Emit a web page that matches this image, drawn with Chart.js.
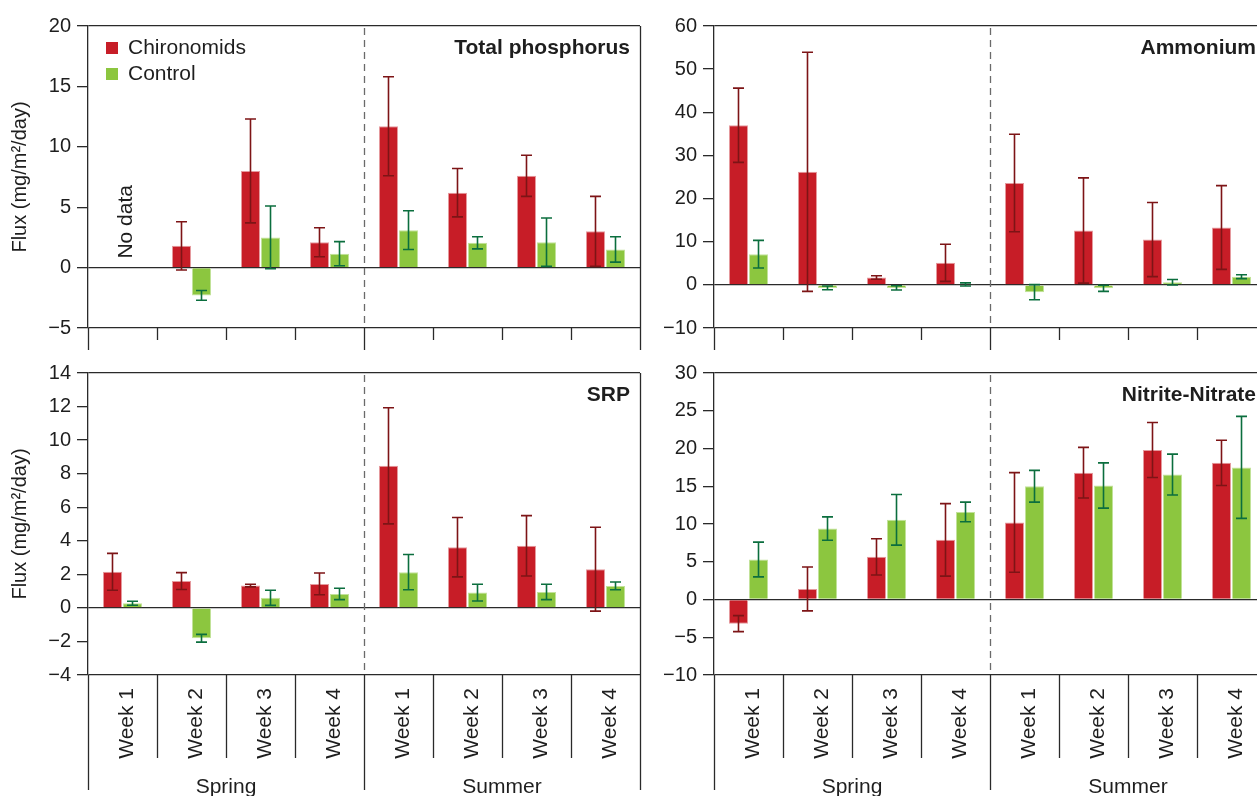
<!DOCTYPE html>
<html>
<head>
<meta charset="utf-8">
<script src="https://cdn.jsdelivr.net/npm/chart.js@4.4.1/dist/chart.umd.min.js"></script>
<style>
html, body { margin: 0; padding: 0; background: #fff; overflow: hidden; width: 1257px; height: 796px; }
canvas { position: absolute; }
</style>
</head>
<body>
<canvas id="tpChart" width="645" height="360" style="left:0;top:0"></canvas>
<canvas id="nh4Chart" width="625" height="360" style="left:645px;top:0"></canvas>
<canvas id="srpChart" width="645" height="446" style="left:0;top:350px"></canvas>
<canvas id="noxChart" width="625" height="446" style="left:645px;top:350px"></canvas>
<script>
const weekLabels = ['Week 1', 'Week 2', 'Week 3', 'Week 4', 'Week 1', 'Week 2', 'Week 3', 'Week 4'];
const seasonLabels = ['Spring', 'Summer'];
const seriesNames = ['Chironomids', 'Control'];

// Total phosphorus (spring week 1: no data)
const tpChironomids = [null, 1.8, 8.0, 2.1, 11.7, 6.2, 7.6, 3.0];
const tpChironomidsErr = [null, 2.0, 4.3, 1.2, 4.1, 2.0, 1.7, 2.9];
const tpControl = [null, -2.3, 2.5, 1.15, 3.1, 2.05, 2.1, 1.5];
const tpControlErr = [null, 0.4, 2.6, 1.0, 1.6, 0.5, 2.0, 1.05];

// Ammonium
const nh4Chironomids = [37.0, 26.2, 1.7, 5.1, 23.6, 12.6, 10.5, 13.3];
const nh4ChironomidsErr = [8.6, 27.7, 0.4, 4.3, 11.3, 12.2, 8.6, 9.7];
const nh4Control = [7.1, -0.7, -0.7, 0.1, -1.7, -0.8, 0.6, 1.9];
const nh4ControlErr = [3.2, 0.45, 0.5, 0.35, 1.75, 0.7, 0.65, 0.45];

// SRP
const srpChironomids = [2.15, 1.6, 1.33, 1.43, 8.47, 3.62, 3.7, 2.31];
const srpChironomidsErr = [1.1, 0.5, 0.08, 0.65, 3.46, 1.77, 1.8, 2.5];
const srpControl = [0.28, -1.81, 0.6, 0.83, 2.13, 0.91, 0.95, 1.31];
const srpControlErr = [0.12, 0.23, 0.45, 0.34, 1.05, 0.5, 0.46, 0.23];

// Nitrite-Nitrate
const noxChironomids = [-3.2, 1.4, 5.65, 7.9, 10.2, 16.8, 19.8, 18.1];
const noxChironomidsErr = [1.06, 2.9, 2.4, 4.8, 6.6, 3.35, 3.65, 3.0];
const noxControl = [5.3, 9.4, 10.55, 11.6, 15.0, 15.1, 16.55, 17.5];
const noxControlErr = [2.3, 1.55, 3.35, 1.3, 2.1, 3.0, 2.7, 6.75];

const RED = '#c71d27';
const RED_EDGE = '#e59a9e';
const RED_DARK = '#7d1416';
const GREEN = '#8cc63f';
const GREEN_EDGE = '#c2e29a';
const GREEN_DARK = '#0b6e3e';
const INK = '#2a2a2a';
const FONT = "'Liberation Sans', Arial, sans-serif";

// error bars, separators, dashed season line, titles and legend
const panelDeco = {
    id: 'panelDeco',
    afterDatasetsDraw(chart) {
        const ctx = chart.ctx;
        const y = chart.scales.y;
        ctx.save();
        chart.data.datasets.forEach((ds, di) => {
            const meta = chart.getDatasetMeta(di);
            ctx.strokeStyle = ds.errorColor;
            ctx.lineWidth = 1.6;
            ds.data.forEach((v, i) => {
                if (v === null || ds.errors[i] === null) return;
                const bx = meta.data[i].x;
                const top = y.getPixelForValue(v + ds.errors[i]);
                const bot = y.getPixelForValue(v - ds.errors[i]);
                ctx.beginPath();
                ctx.moveTo(bx, top); ctx.lineTo(bx, bot);
                ctx.moveTo(bx - 5.5, top); ctx.lineTo(bx + 5.5, top);
                ctx.moveTo(bx - 5.5, bot); ctx.lineTo(bx + 5.5, bot);
                ctx.stroke();
            });
        });
        ctx.restore();
    },
    afterDraw(chart, args, opts) {
        const ctx = chart.ctx;
        const area = chart.chartArea;
        const x = chart.scales.x;
        const y = chart.scales.y;
        const step = (area.right - area.left) / weekLabels.length;
        ctx.save();
        ctx.strokeStyle = INK;
        ctx.lineWidth = 1.3;
        // separators below the axis
        for (let i = 0; i <= weekLabels.length; i++) {
            const px = Math.round(area.left + i * step) + 0.5;
            const major = i % 4 === 0;
            ctx.beginPath();
            ctx.moveTo(px, i === 8 ? area.top : area.bottom);
            ctx.lineTo(px, area.bottom + (major ? opts.majorDrop : opts.minorDrop));
            ctx.stroke();
        }
        // dashed season divider
        const mid = Math.round(area.left + 4 * step) + 0.5;
        ctx.strokeStyle = '#6a6a6a';
        ctx.setLineDash([7, 5]);
        ctx.beginPath();
        ctx.moveTo(mid, area.top + 2);
        ctx.lineTo(mid, area.bottom);
        ctx.stroke();
        ctx.setLineDash([]);

        ctx.fillStyle = '#1e1e1e';
        // panel title
        ctx.font = 'bold 21px ' + FONT;
        ctx.textAlign = 'right';
        ctx.textBaseline = 'middle';
        ctx.fillText(opts.title, area.right - 10, area.top + opts.titleOffset);

        // season labels
        if (opts.seasons) {
            ctx.font = '21px ' + FONT;
            ctx.textAlign = 'center';
            ctx.textBaseline = 'alphabetic';
            seasonLabels.forEach((s, k) => {
                ctx.fillText(s, area.left + (k * 4 + 2) * step, chart.height - 3);
            });
        }

        // legend
        if (opts.legend) {
            const ds = chart.data.datasets;
            ctx.font = '21px ' + FONT;
            ctx.textAlign = 'left';
            ctx.textBaseline = 'middle';
            ds.forEach((d, k) => {
                const ly = area.top + 22 + k * 26;
                ctx.fillStyle = d.backgroundColor;
                ctx.fillRect(area.left + 18, ly - 6, 12, 12);
                ctx.fillStyle = '#1e1e1e';
                ctx.fillText(d.label, area.left + 40, ly);
            });
        }

        // no data note
        if (opts.noData !== null) {
            const cx = x.getPixelForValue(opts.noData) + 4;
            ctx.save();
            ctx.translate(cx, y.getPixelForValue(0) - 9);
            ctx.rotate(-Math.PI / 2);
            ctx.font = '21px ' + FONT;
            ctx.textAlign = 'left';
            ctx.textBaseline = 'middle';
            ctx.fillText('No data', 0, 0);
            ctx.restore();
        }
        ctx.restore();
    }
};

function minusSign(value) {
    return value < 0 ? '\u2212' + Math.abs(value) : String(value);
}

function buildPanel(canvasId, cfg) {
    return new Chart(document.getElementById(canvasId), {
        type: 'bar',
        data: {
            labels: weekLabels,
            datasets: [
                {
                    label: seriesNames[0],
                    data: cfg.chironomids,
                    errors: cfg.chironomidsErr,
                    errorColor: RED_DARK,
                    backgroundColor: RED,
                    borderColor: RED_EDGE,
                    borderWidth: 1,
                    categoryPercentage: 0.58,
                    barPercentage: 0.95
                },
                {
                    label: seriesNames[1],
                    data: cfg.control,
                    errors: cfg.controlErr,
                    errorColor: GREEN_DARK,
                    backgroundColor: GREEN,
                    borderColor: GREEN_EDGE,
                    borderWidth: 1,
                    categoryPercentage: 0.58,
                    barPercentage: 0.95
                }
            ]
        },
        options: {
            responsive: false,
            animation: false,
            events: [],
            layout: { padding: cfg.padding },
            plugins: {
                legend: { display: false },
                tooltip: { enabled: false },
                panelDeco: {
                    title: cfg.title,
                    titleOffset: cfg.titleOffset,
                    legend: cfg.legend,
                    noData: cfg.noData,
                    seasons: cfg.seasons,
                    minorDrop: cfg.minorDrop,
                    majorDrop: cfg.majorDrop
                }
            },
            scales: {
                x: {
                    grid: { display: false },
                    border: { display: false },
                    ticks: {
                        display: cfg.seasons,
                        autoSkip: false,
                        minRotation: 90,
                        maxRotation: 90,
                        padding: 5,
                        labelOffset: 5,
                        color: '#1e1e1e',
                        font: { family: FONT, size: 21 }
                    },
                    afterFit: s => { s.height = cfg.xHeight; }
                },
                y: {
                    min: cfg.min,
                    max: cfg.max,
                    ticks: {
                        stepSize: cfg.step,
                        padding: 6,
                        color: '#1e1e1e',
                        font: { family: FONT, size: 20 },
                        callback: v => minusSign(v)
                    },
                    grid: {
                        drawTicks: true,
                        tickLength: 11,
                        tickColor: INK,
                        lineWidth: 1.3,
                        color: c => (c.tick && (c.tick.value === 0 || c.tick.value === cfg.min || c.tick.value === cfg.max)) ? INK : 'rgba(0,0,0,0)'
                    },
                    border: { display: true, color: INK, width: 1.3 },
                    title: {
                        display: cfg.yTitle,
                        text: 'Flux (mg/m\u00b2/day)',
                        color: '#1e1e1e',
                        font: { family: FONT, size: 20 },
                        padding: { top: 8, bottom: 0 }
                    },
                    afterFit: s => { s.width = cfg.yWidth; }
                }
            }
        },
        plugins: [panelDeco]
    });
}

buildPanel('tpChart', {
    chironomids: tpChironomids, chironomidsErr: tpChironomidsErr,
    control: tpControl, controlErr: tpControlErr,
    min: -5, max: 20, step: 5,
    title: 'Total phosphorus', titleOffset: 22, legend: true, noData: 0,
    seasons: false, yTitle: true, yWidth: 88, xHeight: 32,
    minorDrop: 12, majorDrop: 22,
    padding: { top: 26, left: 0, right: 5, bottom: 0 }
});

buildPanel('nh4Chart', {
    chironomids: nh4Chironomids, chironomidsErr: nh4ChironomidsErr,
    control: nh4Control, controlErr: nh4ControlErr,
    min: -10, max: 60, step: 10,
    title: 'Ammonium', titleOffset: 22, legend: false, noData: null,
    seasons: false, yTitle: false, yWidth: 69, xHeight: 32,
    minorDrop: 12, majorDrop: 22,
    padding: { top: 26, left: 0, right: 4, bottom: 0 }
});

buildPanel('srpChart', {
    chironomids: srpChironomids, chironomidsErr: srpChironomidsErr,
    control: srpControl, controlErr: srpControlErr,
    min: -4, max: 14, step: 2,
    title: 'SRP', titleOffset: 22, legend: false, noData: null,
    seasons: true, yTitle: true, yWidth: 88, xHeight: 121,
    minorDrop: 83, majorDrop: 115,
    padding: { top: 23, left: 0, right: 5, bottom: 0 }
});

buildPanel('noxChart', {
    chironomids: noxChironomids, chironomidsErr: noxChironomidsErr,
    control: noxControl, controlErr: noxControlErr,
    min: -10, max: 30, step: 5,
    title: 'Nitrite-Nitrate', titleOffset: 22, legend: false, noData: null,
    seasons: true, yTitle: false, yWidth: 69, xHeight: 121,
    minorDrop: 83, majorDrop: 115,
    padding: { top: 23, left: 0, right: 4, bottom: 0 }
});
</script>
</body>
</html>
